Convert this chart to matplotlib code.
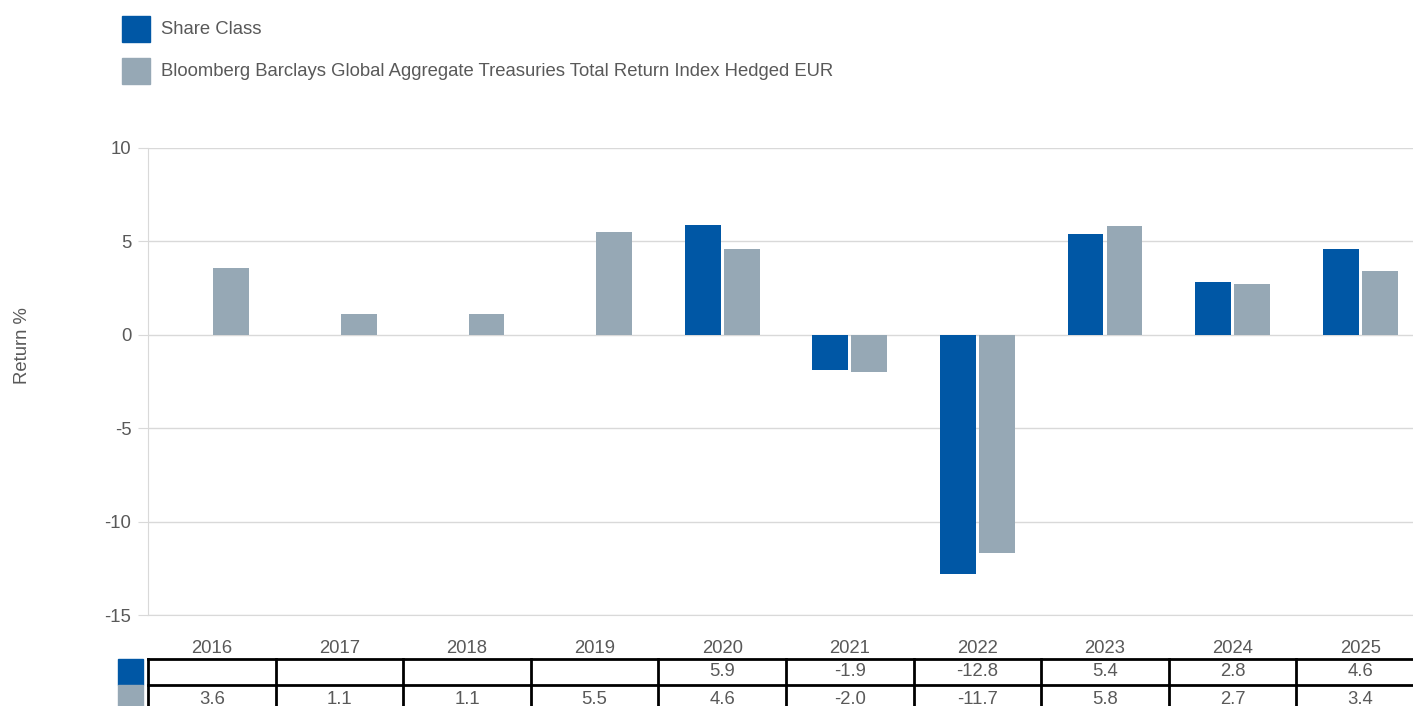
import matplotlib
matplotlib.use("Agg")
import matplotlib.pyplot as plt
import numpy as np

years = ["2016", "2017", "2018", "2019", "2020", "2021", "2022", "2023", "2024", "2025"]
share_class = [np.nan, np.nan, np.nan, np.nan, 5.9, -1.9, -12.8, 5.4, 2.8, 4.6]
benchmark = [3.6, 1.1, 1.1, 5.5, 4.6, -2.0, -11.7, 5.8, 2.7, 3.4]
series_names = ["Share Class",
                "Bloomberg Barclays Global Aggregate Treasuries Total Return Index Hedged EUR"]
y_ticks = [10, 5, 0, -5, -10, -15]

blue = "#0057A5"
grey = "#96A8B5"
txt = "#595959"
grid = "#D9D9D9"

plt.rcParams['font.family'] = ['Liberation Sans', 'DejaVu Sans']
fs = 13.3

W, H = 1413, 706
fig = plt.figure(figsize=(W / 100, H / 100), dpi=100)
ax = fig.add_axes([148 / W, (H - 615) / H, 1276 / W, 467 / H])

x = np.arange(len(years))
bw = 0.28
off = 0.153
ax.bar(x - off, share_class, bw, color=blue, zorder=3)
ax.bar(x + off, benchmark, bw, color=grey, zorder=3)

ax.set_xlim(-0.5, len(years) - 0.5)
ax.set_ylim(-15, 10)
ax.set_yticks(y_ticks)
ax.set_yticklabels([str(v) for v in y_ticks])
ax.yaxis.grid(True, color=grid, linewidth=1, zorder=0)
for s in ["top", "right"]:
    ax.spines[s].set_visible(False)
ax.spines["left"].set_color(grid)
ax.spines["bottom"].set_color(grid)
ax.tick_params(axis="y", colors=grid, labelcolor=txt, labelsize=fs, length=7, pad=5)
ax.set_xticks(x)
ax.set_xticklabels(years)
ax.tick_params(axis="x", length=0, labelcolor=txt, labelsize=fs, pad=18)
ax.set_ylabel("Return %", color=txt, fontsize=fs)
ax.yaxis.set_label_coords(-0.0914, 0.576)

# data table below the chart
tr = ax.get_xaxis_transform()
rows = [(615 - 659) / 467, (615 - 685) / 467, (615 - 714) / 467]
for yy in rows:
    ax.plot([-0.5, len(years) - 0.5], [yy, yy], transform=tr, color="black",
            lw=2, clip_on=False)
for k in range(len(years) + 1):
    ax.plot([k - 0.5, k - 0.5], [rows[0], rows[2]], transform=tr, color="black",
            lw=2, clip_on=False)
for r, (vals, col) in enumerate([(share_class, blue), (benchmark, grey)]):
    yc = (rows[r] + rows[r + 1]) / 2
    ax.add_patch(plt.Rectangle((-0.735, rows[r + 1]), 0.195, rows[r] - rows[r + 1],
                               transform=tr, color=col, clip_on=False))
    for i, v in enumerate(vals):
        if not np.isnan(v):
            ax.text(i, yc, f"{v:.1f}", transform=tr, ha="center", va="center",
                    color=txt, fontsize=fs)

# legend at top
for i, (name, col) in enumerate(zip(series_names, [blue, grey])):
    yc = 29 + i * 42
    fig.patches.append(plt.Rectangle((122 / W, 1 - (yc + 13) / H), 28 / W, 26 / H,
                                     transform=fig.transFigure, color=col))
    fig.text(161 / W, 1 - yc / H, name, color=txt, fontsize=fs, va="center", ha="left")

fig.savefig("out.png", dpi=100)
